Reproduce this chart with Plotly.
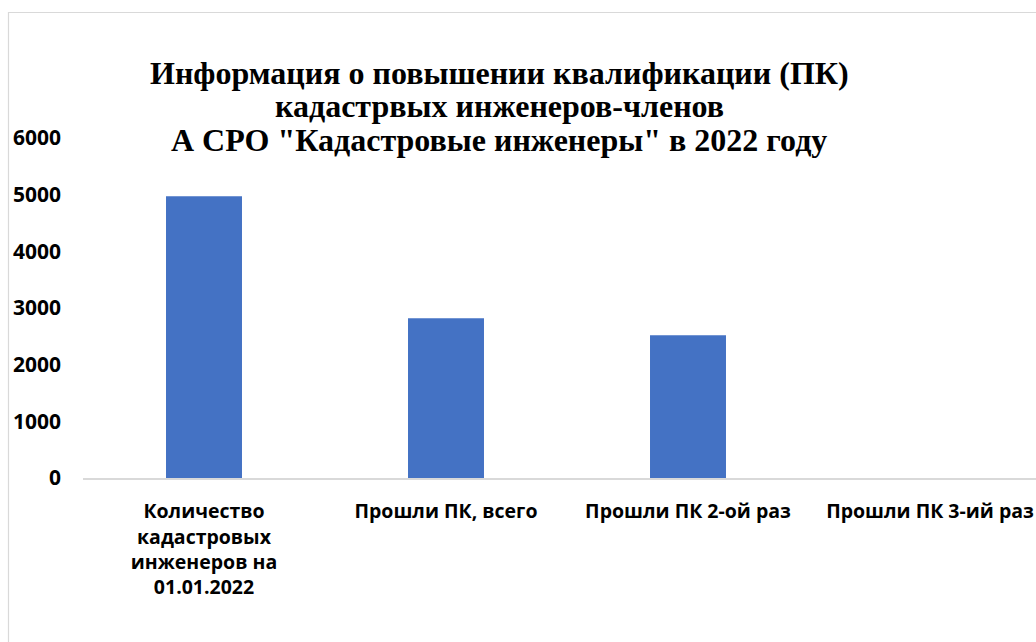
import plotly.graph_objects as go

categories = [
    "Количество<br>кадастровых<br>инженеров на<br>01.01.2022",
    "Прошли ПК, всего",
    "Прошли ПК 2-ой раз",
    "Прошли ПК 3-ий раз",
]
values = [4970, 2820, 2520, 0]
y_ticks = [0, 1000, 2000, 3000, 4000, 5000, 6000]
title_lines = [
    "Информация о повышении квалификации (ПК)",
    "кадастрвых инженеров-членов",
    "А СРО \"Кадастровые инженеры\" в 2022 году",
]

W, H = 1036, 642
L, T = 83, 138
B = H - 478
plot_w = W - L
plot_h = H - T - B

fig = go.Figure(go.Bar(
    x=list(range(len(categories))),
    y=values,
    width=0.314,
    marker=dict(color="#4472C4", line=dict(width=0)),
))

title_font = dict(family="Liberation Serif", size=32, color="#000000", weight="bold")
title_y = [73, 106, 140]
annotations = [
    dict(text=t, xref="paper", yref="paper",
         x=(499 - L) / plot_w, y=(478 - ty) / plot_h,
         xanchor="center", yanchor="middle", showarrow=False,
         font=title_font)
    for t, ty in zip(title_lines, title_y)
]

fig.update_layout(
    width=W, height=H,
    margin=dict(l=L, r=0, t=T, b=B, autoexpand=False),
    paper_bgcolor="white", plot_bgcolor="white",
    showlegend=False,
    annotations=annotations,
    xaxis=dict(
        range=[-0.5, (W - 204) / 242],
        tickmode="array",
        tickvals=list(range(len(categories))),
        ticktext=categories,
        tickfont=dict(family="Open Sans", size=19.5, color="#000000", weight="bold"),
        showgrid=False, zeroline=False,
        showline=True, linecolor="#d9d9d9", linewidth=1.5,
        ticks="", ticklabelstandoff=15,
        ticklabeloverflow="allow",
        fixedrange=True,
    ),
    yaxis=dict(
        range=[0, 6000],
        tickmode="array",
        tickvals=y_ticks,
        tickfont=dict(family="Open Sans", size=21, color="#000000", weight="bold"),
        showgrid=False, zeroline=False, showline=False,
        ticks="", ticklabelstandoff=21,
        fixedrange=True,
    ),
    shapes=[dict(
        type="rect", xref="paper", yref="paper",
        x0=(8.5 - L) / plot_w, x1=1.2,
        y0=-0.6, y1=(478 - 12.5) / plot_h,
        line=dict(color="#d9d9d9", width=1.2),
        fillcolor="rgba(0,0,0,0)", layer="below",
    )],
)

fig.write_html(
    "out.html",
    config={"displayModeBar": False},
    post_script="document.body.style.margin='0';document.documentElement.style.overflow='hidden';",
)
